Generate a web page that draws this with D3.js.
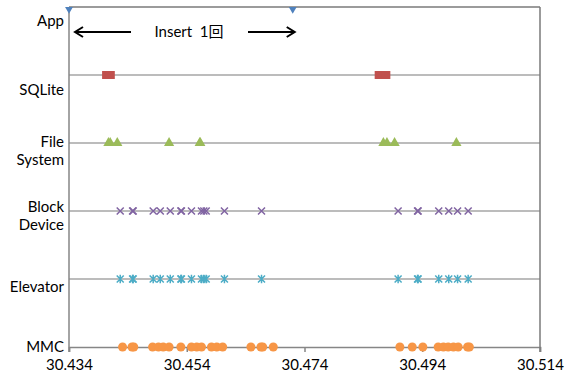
<!DOCTYPE html>
<html>
<head>
<meta charset="utf-8">
<script src="https://cdn.jsdelivr.net/npm/d3@7/dist/d3.min.js"></script>
<style>
  html, body { margin: 0; padding: 0; background: #fff; }
  svg { display: block; font-family: Lato, "Noto Sans CJK JP", sans-serif; }
</style>
</head>
<body>
<svg id="chart" width="569" height="376"></svg>
<script>
// ---- data ----
const categories = ["MMC", "Elevator", "Block Device", "File System", "SQLite", "App"];
const labelLines = [["MMC"], ["Elevator"], ["Block", "Device"], ["File", "System"], ["SQLite"], ["App"]];
const xTicks = [30.434, 30.454, 30.474, 30.494, 30.514];
const annotationText = "Insert\u00a0\u00a01回";

const appTimes = [30.434, 30.472];
const sqliteTimes = [30.4404, 30.4410, 30.4867, 30.4878];
const fsTimes = [30.4407, 30.4410, 30.4422, 30.4510, 30.4562, 30.4563,
                 30.4874, 30.4880, 30.4893, 30.4998];
const blockTimes = [30.4427, 30.4448, 30.4449, 30.4483, 30.4495, 30.4512, 30.4530, 30.4531,
                    30.4548, 30.4565, 30.4569, 30.4573, 30.4604, 30.4667,
                    30.4899, 30.4932, 30.4933, 30.4968, 30.4985, 30.5000, 30.5018];
const elevatorTimes = [30.4427, 30.4448, 30.4449, 30.4483, 30.4495, 30.4512, 30.4530, 30.4531,
                       30.4548, 30.4565, 30.4569, 30.4573, 30.4604, 30.4667,
                       30.4899, 30.4932, 30.4933, 30.4968, 30.4985, 30.5000, 30.5018];
const mmcTimes = [30.4431, 30.4447, 30.4450, 30.4482, 30.4492, 30.4500, 30.4510, 30.4530,
                  30.4548, 30.4557, 30.4565, 30.4582, 30.4591, 30.4601,
                  30.4649, 30.4666, 30.4669, 30.4687,
                  30.4902, 30.4923, 30.4941, 30.4967, 30.4976, 30.4984, 30.4993,
                  30.5001, 30.5017, 30.5020];

// ---- layout ----
const W = 569, H = 376;
const x = d3.scaleLinear().domain([30.434, 30.514]).range([69, 540]);
const y = d3.scaleLinear().domain([0, 5]).range([347, 7]);
const labelDy = [0, 8, -4, -1, 15, 14];   // label offsets from row line (layout only)

const svg = d3.select("#chart");
svg.append("rect").attr("width", W).attr("height", H).attr("fill", "#fff");

svg.append("defs").append("clipPath").attr("id", "clip")
  .append("rect").attr("x", 0).attr("y", 7).attr("width", W).attr("height", H - 7);

// row lines
svg.append("g").selectAll("line").data([1, 2, 3, 4]).join("line")
  .attr("x1", x.range()[0]).attr("x2", x.range()[1])
  .attr("y1", d => y(d)).attr("y2", d => y(d))
  .attr("stroke", "#a6a6a6").attr("stroke-width", 1.5);

// x axis
const xAxis = d3.axisBottom(x).tickValues(xTicks).tickFormat(d3.format(".3f"))
  .tickSize(5).tickPadding(7);
const gx = svg.append("g").attr("transform", `translate(0,${y(0)})`).call(xAxis);
gx.select(".domain").attr("stroke", "#868686").attr("stroke-width", 1.5);
gx.selectAll(".tick line").attr("stroke", "#868686").attr("stroke-width", 1.5);
gx.selectAll(".tick text").attr("font-size", 15).attr("fill", "#000")
  .attr("font-family", "Lato, sans-serif");

// frame: left axis, top and right border
svg.append("line").attr("x1", x.range()[0]).attr("x2", x.range()[0])
  .attr("y1", y(5)).attr("y2", y(0) + 5).attr("stroke", "#868686").attr("stroke-width", 1.5);
svg.append("line").attr("x1", x.range()[0]).attr("x2", x.range()[1])
  .attr("y1", y(5)).attr("y2", y(5)).attr("stroke", "#7a7a7a").attr("stroke-width", 1.5);
svg.append("line").attr("x1", x.range()[1]).attr("x2", x.range()[1])
  .attr("y1", y(5)).attr("y2", y(0) + 5).attr("stroke", "#7a7a7a").attr("stroke-width", 1.5);

// category labels
const lab = svg.append("g").attr("font-size", 15).attr("fill", "#000").attr("text-anchor", "end");
labelLines.forEach((lines, i) => {
  const t = lab.append("text").attr("x", 64).attr("y", y(i) + labelDy[i] + 5);
  lines.forEach((ln, j) => t.append("tspan").attr("x", 64).attr("dy", j === 0 ? 0 : 18).text(ln));
});

// custom symbol types
const timesSym = { draw(ctx, size) { const r = Math.sqrt(size) / 2;
  ctx.moveTo(-r, -r); ctx.lineTo(r, r); ctx.moveTo(r, -r); ctx.lineTo(-r, r); } };
const starSym = { draw(ctx, size) { const r = Math.sqrt(size) / 2;
  ctx.moveTo(-r, -r); ctx.lineTo(r, r); ctx.moveTo(r, -r); ctx.lineTo(-r, r);
  ctx.moveTo(0, -r * 1.2); ctx.lineTo(0, r * 1.2); } };
const squareSym = { draw(ctx, size) { const r = Math.sqrt(size) / 2; ctx.rect(-r * 1.15, -r, 2.3 * r, 2 * r); } };

const plot = svg.append("g").attr("clip-path", "url(#clip)");

function drawSeries(data, row, type, size, fill, stroke, rotate) {
  plot.append("g").selectAll("path").data(data).join("path")
    .attr("d", d3.symbol().type(type).size(size))
    .attr("transform", d => `translate(${x(d)},${y(row)})` + (rotate ? ` rotate(${rotate})` : ""))
    .attr("fill", fill).attr("stroke", stroke).attr("stroke-width", stroke === "none" ? 0 : 1.5);
}

drawSeries(appTimes, 5, d3.symbolTriangle, 60, "#4F81BD", "none", 180);
drawSeries(sqliteTimes, 4, squareSym, 64, "#C0504D", "none");
drawSeries(fsTimes, 3, d3.symbolTriangle, 45, "#9BBB59", "none");
drawSeries(blockTimes, 2, timesSym, 49, "none", "#8064A2");
drawSeries(elevatorTimes, 1, starSym, 49, "none", "#4BACC6");
drawSeries(mmcTimes, 0, d3.symbolCircle, 64, "#F79646", "none");

// annotation: Insert 1回 with arrows
const ay = 32;
const ann = svg.append("g").attr("stroke", "#000").attr("stroke-width", 2).attr("fill", "none");
const lTip = x(appTimes[0]) + 6, rTip = x(appTimes[1]) + 2;
ann.append("line").attr("x1", lTip).attr("x2", 131).attr("y1", ay).attr("y2", ay);
ann.append("path").attr("d", `M${lTip + 8},${ay - 5} L${lTip},${ay} L${lTip + 8},${ay + 5}`);
ann.append("line").attr("x1", 248).attr("x2", rTip).attr("y1", ay).attr("y2", ay);
ann.append("path").attr("d", `M${rTip - 8},${ay - 5} L${rTip},${ay} L${rTip - 8},${ay + 5}`);
svg.append("text").attr("x", 189).attr("y", ay + 5).attr("text-anchor", "middle")
  .attr("font-size", 15).attr("fill", "#000").text(annotationText);
</script>
</body>
</html>
